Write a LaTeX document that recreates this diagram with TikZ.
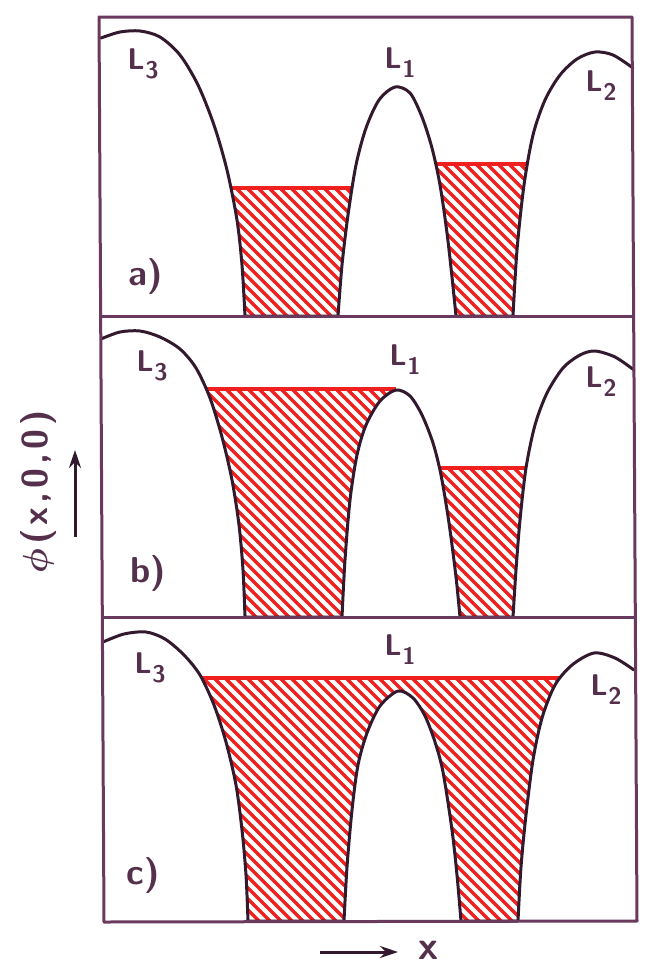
\documentclass[tikz,border=0pt]{standalone}
\usetikzlibrary{arrows.meta}
\definecolor{ink}{HTML}{33192E}
\definecolor{frameink}{HTML}{6A3A5E}
\definecolor{labelink}{HTML}{55304D}
\definecolor{redink}{HTML}{F0201E}
% profiles: L3 -- L1 -- L2 for each panel
\newcommand\profileA{plot[smooth] coordinates {(101,38) (120,32) (140,31) (160,37) (180,55) (198,85) (214,125) (227,170) (237,220) (242,265) (245,316)}
 -- plot[smooth] coordinates {(338,316) (342,265) (348,215) (356,165) (366,128) (379,100) (395,87) (410,93) (422,117) (432,148) (440,185) (447,233) (452,277) (456,316)}
 -- plot[smooth] coordinates {(513,316) (517,250) (524,185) (533,135) (545,100) (560,75) (577,59) (595,52) (613,55) (633,68)}}
\newcommand\profileB{plot[smooth] coordinates {(101,339) (120,332) (140,331) (160,337) (180,349) (196,368) (210,398) (222,437) (232,480) (239,525) (243,570) (245,617)}
 -- plot[smooth] coordinates {(342,617) (345,560) (350,500) (357,455) (366,425) (380,401) (396,390) (410,396) (422,415) (433,443) (441,475) (449,523) (456,577) (460,617)}
 -- plot[smooth] coordinates {(513,617) (516,570) (520,520) (526,468) (535,425) (547,393) (563,368) (580,355) (595,351) (615,357) (634,370)}}
\newcommand\profileC{plot[smooth] coordinates {(103,642) (124,634) (146,632) (165,639) (184,655) (200,675) (214,705) (226,742) (236,785) (242,830) (246,875) (248,921)}
 -- plot[smooth] coordinates {(344,921) (347,867) (352,810) (358,765) (367,733) (380,706) (398,691) (413,698) (425,716) (435,742) (443,772) (452,830) (457,875) (461,921)}
 -- plot[smooth] coordinates {(518,921) (521,867) (526,815) (533,760) (542,718) (555,685) (572,665) (594,653) (615,658) (634,670)}}
\newcommand\Lsub[1]{L\kern0.5pt\raisebox{-9pt}{\fontsize{24}{24}\selectfont #1}}
\begin{document}
\begin{tikzpicture}[x=1pt,y=-1pt,
  frameline/.style={draw=frameink,line width=3pt,line join=round},
  curve/.style={draw=ink,line width=3pt,line cap=round,line join=round},
  hatchline/.style={draw=redink,line width=3.2pt},
  levelline/.style={draw=redink,line width=3.2pt},
  arrowline/.style={draw=ink,line width=3pt,-{Stealth[length=18pt,width=12pt]}},
  lbl/.style={text=labelink,inner sep=0pt,font=\sffamily\bfseries\fontsize{30}{30}\selectfont},
  plbl/.style={text=labelink,inner sep=0pt,font=\sffamily\bfseries\boldmath\fontsize{36}{36}\selectfont}]
\useasboundingbox (0,0) rectangle (646,967);

% ---------- panel a hatching ----------
\begin{scope}
  \clip \profileA -- (640,8) -- (95,8) -- cycle;
  \begin{scope}
    \clip (95,188) rectangle (396,318);
    \foreach \k in {-320,-309,...,660} \draw[hatchline] (\k,17) -- ++(320,320);
  \end{scope}
  \begin{scope}
    \clip (396,164) rectangle (640,318);
    \foreach \k in {-320,-309,...,660} \draw[hatchline] (\k,17) -- ++(320,320);
  \end{scope}
  \draw[levelline] (95,188) -- (396,188);
  \draw[levelline] (396,164) -- (640,164);
\end{scope}

% ---------- panel b hatching ----------
\begin{scope}
  \clip \profileB -- (640,318) -- (95,318) -- cycle;
  \begin{scope}
    \clip (95,389) rectangle (396,619);
    \foreach \k in {-320,-309,...,660} \draw[hatchline] (\k,316) -- ++(320,320);
  \end{scope}
  \begin{scope}
    \clip (396,468) rectangle (640,619);
    \foreach \k in {-320,-309,...,660} \draw[hatchline] (\k,316) -- ++(320,320);
  \end{scope}
  \draw[levelline] (95,389) -- (396,389);
  \draw[levelline] (396,468) -- (640,468);
\end{scope}

% ---------- panel c hatching ----------
\begin{scope}
  \clip \profileC -- (640,619) -- (95,619) -- cycle;
  \begin{scope}
    \clip (95,678) rectangle (640,923);
    \foreach \k in {-320,-309,...,660} \draw[hatchline] (\k,617) -- ++(320,320);
  \end{scope}
  \draw[levelline] (95,678) -- (640,678);
\end{scope}

% ---------- curves ----------
\draw[curve] \profileA;
\draw[curve] \profileB;
\draw[curve] \profileC;

% ---------- frame ----------
\coordinate (tl) at (99,17);
\coordinate (tr) at (632,17);
\coordinate (br) at (637,921);
\coordinate (bl) at (104,922);
\coordinate (dal) at (100.7,316);
\coordinate (dar) at (633.7,316);
\coordinate (dbl) at (102.3,617);
\coordinate (dbr) at (635.3,617);
\draw[frameline] (tl) -- (tr) -- (br) -- (bl) -- cycle;
\draw[frameline] (dal) -- (dar);
\draw[frameline] (dbl) -- (dbr);

% ---------- labels ----------
\node[lbl] (l3a) at (143,64) {\Lsub{3}};
\node[lbl] (l1a) at (400,63) {\Lsub{1}};
\node[lbl] (l2a) at (601,86) {\Lsub{2}};
\node[plbl] (pa) at (146,276) {a)};

\node[lbl] (l3b) at (152,366) {\Lsub{3}};
\node[lbl] (l1b) at (405,360) {\Lsub{1}};
\node[lbl] (l2b) at (601,382) {\Lsub{2}};
\node[plbl] (pb) at (148,573) {b)};

\node[lbl] (l3c) at (150,668) {\Lsub{3}};
\node[lbl] (l1c) at (400,650) {\Lsub{1}};
\node[lbl] (l2c) at (606,690) {\Lsub{2}};
\node[plbl] (pc) at (143,875) {c)};

% ---------- axes ----------
\node[plbl,rotate=90] (phi) at (38,492) {\scalebox{1.4}{$\phi$}\hspace{4pt}(\hspace{4pt}x\hspace{4pt},\hspace{4pt}0\hspace{4pt},\hspace{4pt}0\hspace{4pt})};
\coordinate (ya0) at (75,537);
\coordinate (ya1) at (75,450);
\draw[arrowline] (ya0) -- (ya1);
\coordinate (xa0) at (320,952);
\coordinate (xa1) at (398,952);
\draw[arrowline] (xa0) -- (xa1);
\node[text=labelink,inner sep=0pt,font=\sffamily\bfseries\fontsize{40}{40}\selectfont] (xlab) at (428,950) {x};
\end{tikzpicture}
\end{document}
